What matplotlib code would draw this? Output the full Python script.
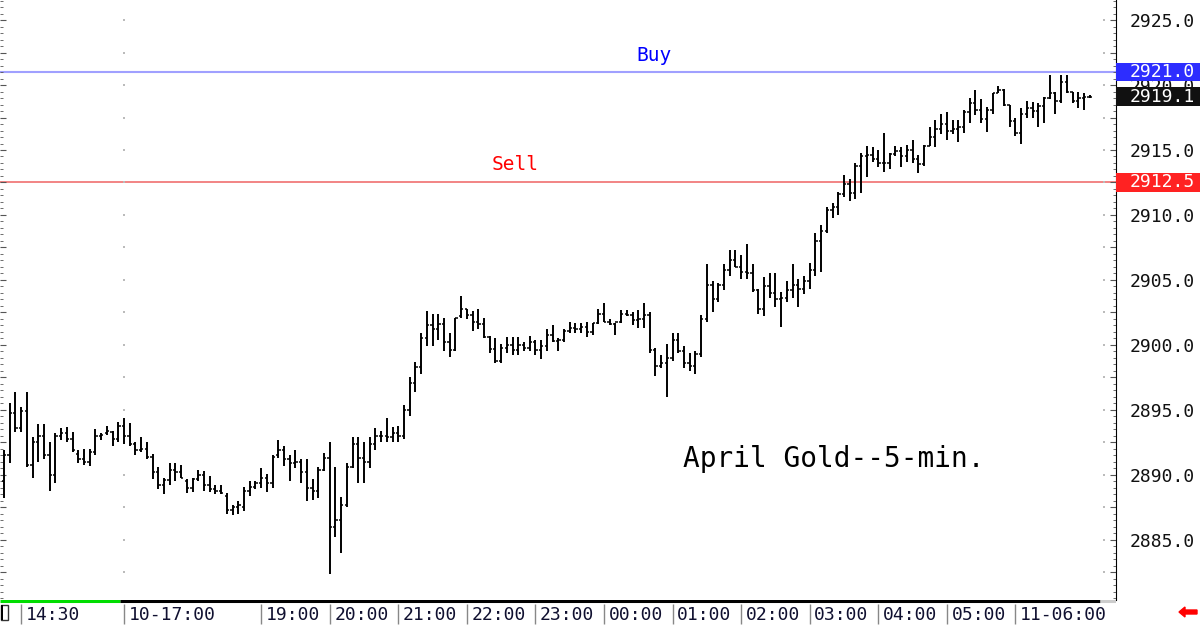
import matplotlib.pyplot as plt
import numpy as np
import matplotlib.transforms as mtransforms
from matplotlib.patches import Rectangle, FancyArrow
from matplotlib.ticker import MultipleLocator, FuncFormatter

# April Gold, 5-min bars
highs = [2891.9, 2895.5, 2896.4, 2895.2, 2896.4, 2892.9, 2893.9, 2893.9, 2892.5, 2893.2,
         2893.6, 2893.7, 2893.3, 2891.9, 2892.0, 2892.0, 2893.5, 2893.2, 2893.8, 2893.4,
         2894.1, 2894.4, 2894.0, 2892.5, 2892.9, 2892.5, 2891.6, 2890.6, 2889.8, 2890.9,
         2890.9, 2890.8, 2889.7, 2889.8, 2890.4, 2890.3, 2889.9, 2889.2, 2889.2, 2888.6,
         2887.7, 2888.0, 2889.1, 2889.5, 2889.5, 2890.5, 2890.1, 2891.5, 2892.7, 2892.2,
         2891.5, 2891.9, 2891.2, 2891.2, 2889.7, 2890.6, 2891.7, 2892.5, 2890.6, 2888.3,
         2890.9, 2892.9, 2892.9, 2892.5, 2892.9, 2893.6, 2893.4, 2894.4, 2893.7, 2893.8,
         2895.4, 2897.5, 2898.7, 2900.9, 2902.6, 2902.4, 2902.4, 2902.1, 2900.9, 2902.1,
         2903.8, 2902.8, 2902.6, 2902.8, 2902.1, 2900.7, 2900.5, 2900.1, 2900.6, 2900.6,
         2900.6, 2900.2, 2900.7, 2900.4, 2900.4, 2901.2, 2901.5, 2900.5, 2901.2, 2901.8,
         2901.7, 2901.7, 2901.8, 2901.7, 2902.8, 2903.2, 2902.0, 2901.7, 2902.7, 2902.7,
         2902.5, 2902.7, 2903.2, 2902.5, 2899.8, 2899.2, 2900.1, 2900.9, 2900.9, 2899.9,
         2899.4, 2899.5, 2902.3, 2906.2, 2904.9, 2904.8, 2906.2, 2907.3, 2907.3, 2906.9,
         2907.8, 2906.2, 2904.3, 2905.2, 2905.5, 2905.5, 2904.1, 2904.9, 2906.2, 2905.1,
         2905.3, 2906.3, 2908.6, 2909.2, 2910.6, 2910.9, 2911.8, 2913.1, 2912.8, 2914.0,
         2914.8, 2915.3, 2915.2, 2915.0, 2916.3, 2914.8, 2915.3, 2915.2, 2915.4, 2915.8,
         2914.6, 2915.4, 2916.8, 2917.3, 2917.8, 2917.9, 2917.3, 2917.3, 2918.1, 2919.0,
         2919.6, 2918.9, 2918.3, 2919.4, 2919.9, 2919.7, 2918.5, 2917.5, 2918.2, 2918.8,
         2918.7, 2918.6, 2919.1, 2920.8, 2919.5, 2920.8, 2920.8, 2919.5, 2919.5, 2919.4,
         2919.2]
lows = [2888.2, 2890.9, 2893.3, 2893.3, 2890.6, 2889.8, 2891.0, 2891.2, 2888.8, 2889.4,
        2892.7, 2892.5, 2891.8, 2890.9, 2890.8, 2890.7, 2891.5, 2892.7, 2893.1, 2892.2,
        2892.5, 2892.4, 2892.2, 2891.5, 2891.8, 2891.2, 2889.7, 2888.9, 2888.5, 2889.2,
        2889.5, 2889.8, 2888.6, 2888.7, 2889.5, 2888.8, 2888.7, 2888.5, 2888.5, 2887.0,
        2886.9, 2887.0, 2887.2, 2888.4, 2888.9, 2889.0, 2888.7, 2889.0, 2891.3, 2890.7,
        2889.5, 2890.5, 2889.4, 2888.0, 2888.1, 2888.2, 2890.3, 2882.4, 2885.2, 2884.0,
        2887.5, 2890.5, 2889.4, 2889.4, 2890.5, 2891.9, 2892.5, 2892.5, 2892.5, 2892.5,
        2892.8, 2894.5, 2896.4, 2897.8, 2899.9, 2899.9, 2900.4, 2899.5, 2899.1, 2899.5,
        2902.1, 2902.0, 2901.1, 2901.2, 2900.5, 2899.4, 2898.6, 2898.6, 2899.4, 2899.2,
        2899.2, 2899.5, 2899.5, 2899.2, 2898.9, 2899.5, 2900.2, 2899.5, 2900.2, 2900.9,
        2900.9, 2900.9, 2900.6, 2900.8, 2901.6, 2901.8, 2901.5, 2900.8, 2901.7, 2902.2,
        2901.5, 2901.3, 2901.3, 2899.4, 2897.6, 2898.2, 2896.0, 2898.8, 2899.4, 2898.2,
        2898.0, 2897.8, 2899.1, 2901.8, 2902.5, 2903.3, 2904.2, 2905.3, 2906.0, 2905.1,
        2905.1, 2904.1, 2902.4, 2902.2, 2903.6, 2902.9, 2901.4, 2903.3, 2903.6, 2902.9,
        2903.9, 2904.3, 2905.3, 2905.6, 2908.6, 2909.8, 2910.0, 2911.4, 2911.1, 2911.2,
        2911.7, 2912.9, 2914.1, 2913.7, 2913.3, 2913.5, 2914.5, 2913.7, 2914.1, 2914.0,
        2913.2, 2913.8, 2915.3, 2915.2, 2916.2, 2915.8, 2916.2, 2915.6, 2916.3, 2917.1,
        2917.7, 2917.1, 2916.4, 2917.8, 2919.4, 2918.4, 2916.8, 2916.1, 2915.5, 2917.5,
        2917.5, 2916.8, 2917.1, 2918.9, 2917.8, 2918.6, 2919.4, 2918.6, 2918.2, 2918.1,
        2919.0]
opens = [2889.5, 2891.5, 2894.8, 2893.6, 2894.9, 2890.8, 2892.5, 2893.0, 2891.5, 2890.0,
         2893.0, 2893.2, 2892.8, 2891.6, 2891.2, 2891.0, 2891.8, 2893.0, 2893.2, 2893.3,
         2892.8, 2893.8, 2893.0, 2892.4, 2891.9, 2892.0, 2891.4, 2890.2, 2889.2, 2889.6,
         2890.4, 2890.2, 2889.5, 2889.0, 2889.7, 2890.0, 2889.2, 2888.9, 2888.8, 2888.4,
         2887.3, 2887.5, 2887.5, 2888.8, 2889.1, 2889.4, 2889.8, 2889.4, 2891.5, 2891.9,
         2891.2, 2890.9, 2891.0, 2890.2, 2889.0, 2888.8, 2890.4, 2891.3, 2886.0, 2886.5,
         2887.7, 2890.6, 2892.4, 2891.3, 2891.0, 2892.4, 2893.0, 2893.0, 2892.9, 2893.2,
         2893.0, 2895.0, 2897.1, 2898.3, 2900.5, 2901.5, 2901.2, 2901.6, 2900.2, 2899.6,
         2902.2, 2902.8, 2902.3, 2901.8, 2901.6, 2900.6, 2899.7, 2898.8, 2899.8, 2900.0,
         2899.6, 2900.0, 2899.8, 2900.2, 2899.6, 2899.9, 2900.8, 2900.3, 2900.4, 2901.1,
         2901.3, 2901.2, 2901.4, 2901.0, 2901.7, 2902.4, 2901.8, 2901.6, 2901.8, 2902.4,
         2902.3, 2901.9, 2902.0, 2902.3, 2899.6, 2898.4, 2898.6, 2899.0, 2900.4, 2899.5,
         2898.6, 2898.4, 2899.3, 2902.0, 2904.6, 2903.5, 2904.6, 2905.8, 2906.5, 2906.0,
         2905.6, 2905.5, 2904.2, 2902.8, 2904.5, 2904.0, 2903.5, 2903.6, 2904.2, 2904.6,
         2904.3, 2904.9, 2905.8, 2908.0, 2908.8, 2910.4, 2910.6, 2911.6, 2912.4, 2911.7,
         2913.8, 2914.5, 2914.6, 2914.3, 2914.0, 2914.0, 2914.7, 2914.9, 2914.5, 2915.0,
         2914.3, 2913.9, 2915.3, 2916.0, 2916.6, 2917.0, 2916.5, 2916.6, 2916.8, 2917.9,
         2918.6, 2918.1, 2917.4, 2918.1, 2919.4, 2919.6, 2918.5, 2917.2, 2916.3, 2917.8,
         2918.2, 2918.0, 2918.4, 2919.0, 2919.4, 2918.8, 2920.2, 2919.5, 2918.8, 2919.0,
         2919.1]
closes = [2891.5, 2894.8, 2893.6, 2894.9, 2890.8, 2892.5, 2893.0, 2891.5, 2890.0, 2893.0,
          2893.2, 2892.8, 2891.9, 2891.2, 2891.0, 2891.8, 2893.0, 2893.1, 2893.4, 2892.8,
          2893.8, 2893.0, 2892.4, 2891.9, 2892.0, 2891.4, 2890.2, 2889.2, 2889.6, 2890.4,
          2890.2, 2889.8, 2889.0, 2889.7, 2890.0, 2889.2, 2888.9, 2888.8, 2888.6, 2887.3,
          2887.5, 2887.7, 2888.8, 2889.1, 2889.4, 2889.8, 2889.4, 2891.4, 2891.9, 2891.2,
          2890.9, 2891.0, 2890.2, 2889.0, 2888.8, 2890.4, 2891.3, 2886.0, 2886.5, 2887.7,
          2890.6, 2892.4, 2891.3, 2891.0, 2892.4, 2893.0, 2893.0, 2892.9, 2893.2, 2893.0,
          2895.0, 2897.1, 2898.3, 2900.5, 2901.5, 2901.2, 2901.6, 2900.2, 2899.6, 2902.1,
          2902.8, 2902.3, 2901.8, 2901.6, 2900.6, 2899.7, 2898.8, 2899.8, 2900.0, 2899.6,
          2900.0, 2899.8, 2900.2, 2899.6, 2899.9, 2900.8, 2900.3, 2900.4, 2901.1, 2901.3,
          2901.2, 2901.4, 2901.0, 2901.7, 2902.4, 2901.8, 2901.6, 2901.8, 2902.4, 2902.3,
          2901.9, 2902.0, 2902.3, 2899.6, 2898.4, 2898.6, 2899.0, 2900.4, 2899.5, 2898.6,
          2898.4, 2899.3, 2902.0, 2904.6, 2903.5, 2904.6, 2905.8, 2906.5, 2906.0, 2905.6,
          2905.5, 2904.2, 2902.8, 2904.5, 2904.0, 2903.5, 2903.6, 2904.2, 2904.6, 2904.3,
          2904.9, 2905.8, 2908.0, 2908.8, 2910.4, 2910.6, 2911.6, 2912.4, 2911.7, 2913.8,
          2914.5, 2914.6, 2914.3, 2914.0, 2914.0, 2914.7, 2914.9, 2914.5, 2915.0, 2914.3,
          2913.9, 2915.3, 2916.0, 2916.6, 2917.0, 2916.5, 2916.6, 2916.8, 2917.9, 2918.6,
          2918.1, 2917.4, 2918.1, 2919.4, 2919.6, 2918.5, 2917.2, 2916.3, 2917.8, 2918.2,
          2918.0, 2918.4, 2919.0, 2919.4, 2918.8, 2920.2, 2919.5, 2918.8, 2919.0, 2919.1,
          2919.1]

time_labels = ["14:30", "10-17:00", "19:00", "20:00", "21:00", "22:00", "23:00",
               "00:00", "01:00", "02:00", "03:00", "04:00", "05:00", "11-06:00"]
label_bars = [3, 21, 45, 57, 69, 81, 93, 105, 117, 129, 141, 153, 165, 177]

buy_price = 2921.0
sell_price = 2912.5
last_price = closes[-1]

plt.rcParams['font.family'] = 'DejaVu Sans Mono'

fig = plt.figure(figsize=(12, 6.25), dpi=100)
ax = fig.add_axes([0, 25 / 625, 1116 / 1200, 600 / 625])

x = np.arange(len(highs))
ax.vlines(x, lows, highs, color='black', lw=1.4)
ax.hlines(opens, x - 0.4, x, color='black', lw=1.1)
ax.hlines(closes, x, x + 0.4, color='black', lw=1.1)

ax.set_xlim(-0.7, 194.6)
ax.set_ylim(2880.38, 2926.54)

# buy / sell lines
ax.axhline(buy_price, color='#a0a0ff', lw=1.5, zorder=1)
ax.axhline(sell_price, color='#f07070', lw=1.2, zorder=1)
ax.text(113.8, buy_price + 1.3, "Buy", color='#0000ff', fontsize=14,
        ha='center', va='center')
ax.text(89.4, sell_price + 1.4, "Sell", color='#ff0000', fontsize=14,
        ha='center', va='center')
ax.text(118.8, 2891.2, "April Gold--5-min.", fontsize=20, ha='left', va='center')

# sparse grid dots
lev = np.arange(2882.5, 2926, 2.5)
for gx in [21, 192.5]:
    ax.scatter(np.full(len(lev), gx), lev, s=1.5, color='#bbbbbb', marker='s', lw=0)

# price axis on the right
ax.yaxis.tick_right()
ax.yaxis.set_major_locator(MultipleLocator(2.5))
ax.yaxis.set_minor_locator(MultipleLocator(0.5))
ax.yaxis.set_major_formatter(FuncFormatter(
    lambda v, p: f"{v:.1f}" if abs(v / 5 - round(v / 5)) < 1e-6 else ""))
ax.tick_params(axis='y', which='both', direction='in', left=True, right=True,
               labelleft=False, labelright=True, colors='#555555', labelcolor='#111111')
ax.tick_params(axis='y', which='major', length=4, labelsize=13, pad=10)
ax.tick_params(axis='y', which='minor', length=2)
ax.tick_params(axis='x', bottom=False, labelbottom=False)
for s in ['top', 'left', 'bottom']:
    ax.spines[s].set_visible(False)
ax.spines['right'].set_color('black')

# price boxes
tr = mtransforms.blended_transform_factory(ax.transAxes, ax.transData)
for price, col in [(buy_price, '#2d2dff'), (last_price, '#111111'), (sell_price, '#ff2222')]:
    ax.add_patch(Rectangle((1.0, price - 0.73), 0.08, 1.46, transform=tr,
                           facecolor=col, edgecolor='none', clip_on=False, zorder=5))
    ax.text(1.0125, price, f"{price:.1f}", transform=tr, color='white', fontsize=13,
            ha='left', va='center', zorder=6, clip_on=False)

# time strip at the bottom
axb = fig.add_axes([0, 0, 1116 / 1200, 25 / 625])
axb.set_xlim(ax.get_xlim())
axb.set_ylim(0, 1)
axb.axis('off')
axb.plot([-0.7, 20.3], [0.96, 0.96], color='#00dd00', lw=2.2, solid_capstyle='butt')
axb.plot([20.3, 191.8], [0.96, 0.96], color='black', lw=2.2, solid_capstyle='butt')
axb.plot([191.8, 194.6], [0.96, 0.96], color='#cccccc', lw=2.2, solid_capstyle='butt')
axb.vlines(label_bars, 0.04, 0.86, color='#888888', lw=1.0)
for b, lab in zip(label_bars, time_labels):
    axb.text(b + 0.8, 0.42, lab, fontsize=13, color='#101030', ha='left', va='center')
axb.add_patch(Rectangle((-0.6, 0.2), 1.3, 0.6, facecolor='white', edgecolor='#333333', lw=1))
axb.add_patch(Rectangle((-0.6, 0.2), 0.5, 0.6, facecolor='black', edgecolor='none'))

fig.add_artist(FancyArrow(11.97, 0.13, -0.12, 0, width=0.04, head_width=0.1,
                          head_length=0.06, color='red', transform=fig.dpi_scale_trans))

plt.savefig("out.png", dpi=100)
